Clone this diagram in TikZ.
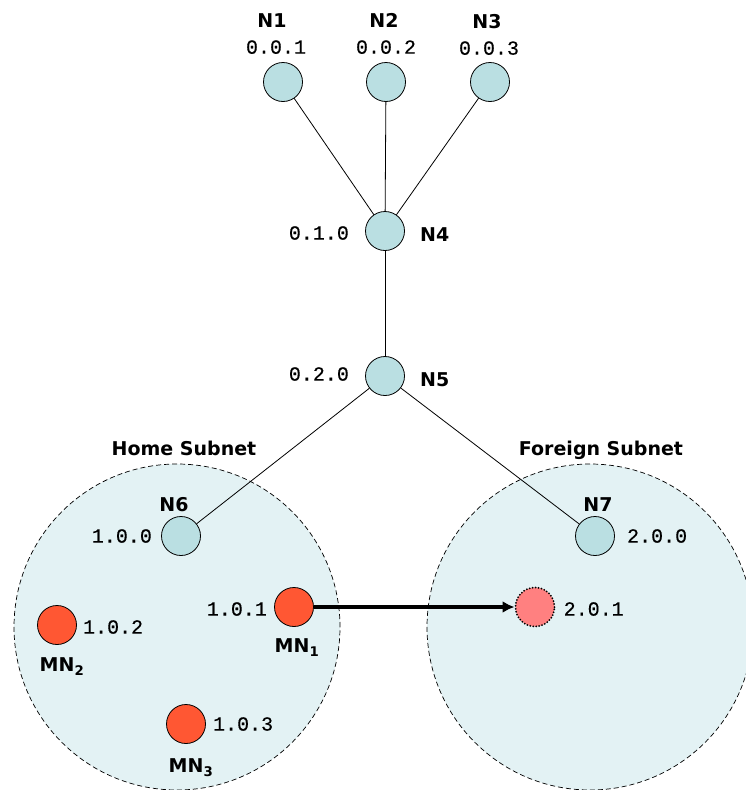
\documentclass[tikz,border=0pt]{standalone}
\usepackage{fontspec}
\setsansfont{DejaVu Sans}
\newfontfamily\addrfont{Liberation Mono}[FakeBold=0.35]
\usepackage{tikz}
\usetikzlibrary{arrows.meta,positioning}
\definecolor{RouterCyan}{HTML}{BADFE2}
\definecolor{SubnetCyan}{HTML}{E3F2F4}
\definecolor{MobileRed}{HTML}{FF5733}
\definecolor{GhostRed}{HTML}{FF8080}
\tikzset{
  net/router/.style={draw, circle, fill=RouterCyan, line width=0.8pt, minimum size=39pt, inner sep=0pt},
  net/mobile/.style={net/router, fill=MobileRed},
  net/ghost/.style={net/router, fill=GhostRed, line width=2pt, line cap=round, dash pattern=on 0pt off 3pt},
  net/subnet/.style={draw, circle, fill=SubnetCyan, dash pattern=on 5pt off 3pt, line width=0.7pt, minimum size=326pt, inner sep=0pt},
  net/name/.style={font=\sffamily\bfseries\fontsize{19}{23}\selectfont, inner sep=0pt},
  net/addr/.style={font=\addrfont\fontsize{20}{24}\selectfont, inner sep=0pt},
  net/link/.style={line width=0.8pt},
  net/move/.style={line width=3.6pt, -{Latex[length=12pt,width=12pt]}}
}

\begin{document}
\begin{tikzpicture}[x=1pt, y=-1pt]
  \useasboundingbox (0,0) rectangle (746,790);

  % subnets
  \node[net/subnet] (home) at (177,627) {};
  \node[net/subnet] (foreign) at (590,627) {};
  \node[net/name, above=8pt of home, xshift=7pt] (homeLbl) {Home Subnet};
  \node[net/name, above=4pt of foreign, xshift=11pt] (foreignLbl) {Foreign Subnet};

  % routers
  \node[net/router] (n1) at (283,82) {};
  \node[net/router] (n2) at (386,82) {};
  \node[net/router] (n3) at (490,82) {};
  \node[net/router] (n4) at (385,231) {};
  \node[net/router] (n5) at (385,376) {};
  \node[net/router] (n6) at (181,536) {};
  \node[net/router] (n7) at (595,536) {};

  % mobile nodes
  \node[net/mobile] (mn1) at (294,607) {};
  \node[net/mobile] (mn2) at (57,625) {};
  \node[net/mobile] (mn3) at (186,724) {};
  \node[net/ghost] (ghost) at (535,607) {};

  \draw[net/link] (n1) -- (n4);
  \draw[net/link] (n2) -- (n4);
  \draw[net/link] (n3) -- (n4);
  \draw[net/link] (n4) -- (n5);
  \draw[net/link] (n5) -- (n6);
  \draw[net/link] (n5) -- (n7);
  \draw[net/move] (mn1) -- (ghost);

  % labels
  \node[net/addr, above=8pt of n1, xshift=-7pt] (a1) {0.0.1};
  \node[net/name, above=12pt of a1, xshift=-4pt] (l1) {N1};
  \node[net/addr, above=8pt of n2] (a2) {0.0.2};
  \node[net/name, above=12pt of a2, xshift=-2pt] (l2) {N2};
  \node[net/addr, above=7pt of n3, xshift=-1pt] (a3) {0.0.3};
  \node[net/name, above=12pt of a3, xshift=-2pt] (l3) {N3};
  \node[net/addr, left=16pt of n4, yshift=-2pt] (a4) {0.1.0};
  \node[net/name, right=15pt of n4, yshift=-4pt] (l4) {N4};
  \node[net/addr, left=16pt of n5, yshift=2pt] (a5) {0.2.0};
  \node[net/name, right=15pt of n5, yshift=-4pt] (l5) {N5};
  \node[net/addr, left=9pt of n6] (a6) {1.0.0};
  \node[net/name, above=4pt of n6, xshift=-7pt] (l6) {N6};
  \node[net/addr, right=12pt of n7] (a7) {2.0.0};
  \node[net/name, above=4pt of n7, xshift=3pt] (l7) {N7};
  \node[net/addr, left=7pt of mn1, yshift=-2pt] (amn1) {1.0.1};
  \node[net/name, below=12pt of mn1, xshift=3pt] (lmn1) {MN\textsubscript{1}};
  \node[net/addr, right=6pt of mn2, yshift=-2pt] (amn2) {1.0.2};
  \node[net/name, below=13pt of mn2, xshift=5pt] (lmn2) {MN\textsubscript{2}};
  \node[net/addr, right=7pt of mn3] (amn3) {1.0.3};
  \node[net/name, below=15pt of mn3, xshift=5pt] (lmn3) {MN\textsubscript{3}};
  \node[net/addr, right=8pt of ghost, yshift=-2pt] (aghost) {2.0.1};
\end{tikzpicture}
\end{document}
